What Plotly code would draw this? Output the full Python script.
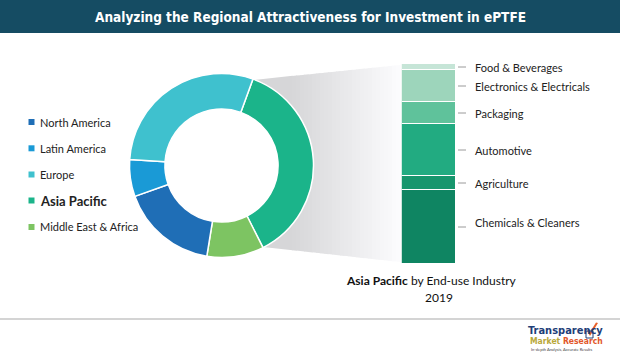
import plotly.graph_objects as go
import math

W, H = 620, 356

# ---------------- data ----------------
regions = ["Asia Pacific", "Middle East & Africa", "North America", "Latin America", "Europe"]
region_share = [37, 10, 17, 6.5, 29.5]
region_colors = ["#1BB48A", "#7DC462", "#1F6EB6", "#1A9AD6", "#3FC1CE"]

legend_order = ["North America", "Latin America", "Europe", "Asia Pacific", "Middle East & Africa"]

industries = ["Chemicals & Cleaners", "Agriculture", "Automotive", "Packaging",
              "Electronics & Electricals", "Food & Beverages"]
industry_share = [37, 7, 26, 11, 16, 3]
industry_colors = ["#0F8562", "#17966D", "#22AB81", "#5FC29B", "#9DD5BB", "#C6E5D7"]

title_text = "Analyzing the Regional Attractiveness for Investment in ePTFE"
caption_bold = "Asia Pacific"
caption_rest = " by End-use Industry"
caption_year = "2019"

# ---------------- helpers ----------------
def px(x):
    return x / W

def py(y):
    return 1 - y / H

FONT = "Lato, 'Open Sans', sans-serif"
TITLE_FONT = "'Liberation Sans Narrow', 'DejaVu Sans Condensed', 'Arial Narrow', sans-serif"

fig = go.Figure()

# donut
cx, cy, R = 221.5, 165.5, 92
fig.add_trace(go.Pie(
    labels=regions, values=region_share, sort=False, direction="clockwise",
    rotation=20, hole=0.615, textinfo="none", hoverinfo="label+percent",
    marker=dict(colors=region_colors, line=dict(color="white", width=1.5)),
    domain=dict(x=[px(cx - R), px(cx + R)], y=[py(cy + R), py(cy - R)]),
    showlegend=False,
))

# stacked bar
for name, val, col in zip(industries, industry_share, industry_colors):
    fig.add_trace(go.Bar(
        x=[0], y=[val], width=1, name=name, showlegend=False,
        marker=dict(color=col, line=dict(color="white", width=1.2)),
        hoverinfo="name+y",
    ))

shapes = []
annotations = []

# title banner
shapes.append(dict(type="rect", xref="paper", yref="paper", x0=0, x1=1, y0=py(33), y1=1,
                   fillcolor="#154C63", line=dict(width=0), layer="below"))
annotations.append(dict(text="<b>" + title_text + "</b>", xref="paper", yref="paper",
                        x=0.5, y=py(17), showarrow=False, xanchor="center", yanchor="middle",
                        font=dict(family=TITLE_FONT, size=13.5, color="white")))

# wedge connector with gradient (vertical strips)
def top(x):
    return 80 + (x - 253) * (65 - 80) / (400 - 253)

def bot(x):
    return 247 + (x - 263) * (262 - 247) / (400 - 263)

def grey(v):
    v = int(round(v))
    return "rgb(%d,%d,%d)" % (v, v, min(255, v + 2))

xs0 = 292
c_left, c_right = 214, 252
pts = [(253, 80), (xs0 + 0.5, top(xs0 + 0.5)), (xs0 + 0.5, bot(xs0 + 0.5)), (263, 247)]
for th in range(153, 19, -10):
    r = 64
    pts.append((cx + r * math.sin(math.radians(th)), cy - r * math.cos(math.radians(th))))
path = "M " + " L ".join("%.3f,%.3f" % (px(a), py(b)) for a, b in pts) + " Z"
shapes.append(dict(type="path", xref="paper", yref="paper", path=path,
                   fillcolor=grey(c_left), line=dict(width=0), layer="below"))
n = 27
step = (400 - xs0) / n
for i in range(n):
    xa = xs0 + i * step
    xb = xa + step + 0.6
    t = (i + 0.5) / n
    c = c_left + (c_right - c_left) * t
    p = [(xa, top(xa)), (xb, top(xb)), (xb, bot(xb)), (xa, bot(xa))]
    path = "M " + " L ".join("%.4f,%.4f" % (px(a), py(b)) for a, b in p) + " Z"
    shapes.append(dict(type="path", xref="paper", yref="paper", path=path,
                       fillcolor=grey(c), line=dict(width=0), layer="below"))

# legend (custom)
leg_y = [122, 148.3, 174.5, 200.5, 227]
for name, yy in zip(legend_order, leg_y):
    col = region_colors[regions.index(name)]
    shapes.append(dict(type="rect", xref="paper", yref="paper",
                       x0=px(28.5), x1=px(34.5), y0=py(yy + 3), y1=py(yy - 3),
                       fillcolor=col, line=dict(width=0)))
    bold = name == "Asia Pacific"
    annotations.append(dict(text=("<b>%s</b>" % name) if bold else name,
                            xref="paper", yref="paper", x=px(37.5), y=py(yy),
                            showarrow=False, xanchor="left", yanchor="middle",
                            font=dict(family=FONT, size=13 if bold else 11, color="#222")))

# bar labels
label_yshift = {"Chemicals & Cleaners": 5}
cum = 0
for name, val in zip(industries, industry_share):
    mid = cum + val / 2
    cum += val
    ys = label_yshift.get(name, 0)
    shapes.append(dict(type="line", xref="paper", yref="y", x0=px(458), x1=px(466),
                       y0=mid, y1=mid, line=dict(color="#9a9a9a", width=1)))
    annotations.append(dict(text=name, xref="paper", yref="y", x=px(472.5), y=mid, yshift=ys,
                            showarrow=False, xanchor="left", yanchor="middle",
                            font=dict(family=FONT, size=11, color="#222")))

# caption
annotations.append(dict(text="<b>" + caption_bold + "</b>" + caption_rest, xref="paper", yref="paper",
                        x=px(431), y=py(280), showarrow=False, xanchor="center", yanchor="middle",
                        font=dict(family=FONT, size=12, color="#111")))
annotations.append(dict(text=caption_year, xref="paper", yref="paper",
                        x=px(439), y=py(297.5), showarrow=False, xanchor="center", yanchor="middle",
                        font=dict(family=FONT, size=12, color="#111")))

# bottom separator
shapes.append(dict(type="line", xref="paper", yref="paper", x0=0, x1=1, y0=py(319), y1=py(319),
                   line=dict(color="#aaaaaa", width=1.2)))

# logo
LOGO_FONT = "'Liberation Sans Narrow', 'DejaVu Sans Condensed', sans-serif"
annotations.append(dict(text="<b>Transparency</b>", xref="paper", yref="paper", x=px(527), y=py(330.5),
                        showarrow=False, xanchor="left", yanchor="middle", borderpad=0,
                        font=dict(family=LOGO_FONT, size=11, color="#1E3E78")))
annotations.append(dict(text="<b><span style='color:#B9A83A'>Market</span> <span style='color:#E2572A'>Research</span></b>",
                        xref="paper", yref="paper", x=px(529), y=py(341),
                        showarrow=False, xanchor="left", yanchor="middle", borderpad=0,
                        font=dict(family=LOGO_FONT, size=8.5, color="#B9A83A")))
annotations.append(dict(text="In-depth Analysis, Accurate Results", xref="paper", yref="paper",
                        x=px(530), y=py(349), showarrow=False, xanchor="left", yanchor="middle",
                        borderpad=0, font=dict(family=FONT, size=4, color="#444")))
chk = [(587, 331), (590, 336), (598, 323), (596, 322.5), (590, 332), (589, 329.5)]
path = "M " + " L ".join("%.4f,%.4f" % (px(a), py(b)) for a, b in chk) + " Z"
shapes.append(dict(type="path", xref="paper", yref="paper", path=path,
                   fillcolor="#E8602A", line=dict(width=0)))
shapes.append(dict(type="rect", xref="paper", yref="paper", x0=px(586), x1=px(593),
                   y0=py(338), y1=py(331), fillcolor="rgba(0,0,0,0)",
                   line=dict(color="#1E3E78", width=1)))

fig.update_layout(
    width=W, height=H, margin=dict(l=0, r=0, t=0, b=0),
    paper_bgcolor="white", plot_bgcolor="rgba(0,0,0,0)",
    barmode="stack", bargap=0, showlegend=False,
    xaxis=dict(domain=[px(401.7), px(455.7)], range=[-0.5, 0.5], visible=False, fixedrange=True),
    yaxis=dict(domain=[py(264), py(64)], range=[0, 100], visible=False, fixedrange=True),
    shapes=shapes, annotations=annotations,
)

fig.write_html("out.html", config={"displayModeBar": False},
               post_script="document.body.style.margin='0';document.body.style.overflow='hidden';")
